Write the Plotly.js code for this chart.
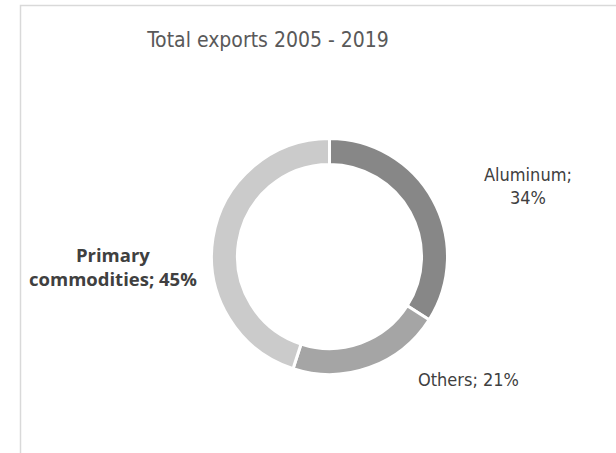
<!DOCTYPE html>
<html>
<head>
<meta charset="utf-8">
<script src="https://cdn.plot.ly/plotly-3.0.1.min.js"></script>
<style>html,body{margin:0;padding:0;background:#fff;}#chart{width:616px;height:453px;}</style>
</head>
<body>
<div id="chart"></div>
<script>
// Data
var categories = ['Aluminum', 'Others', 'Primary commodities'];
var shares = [34, 21, 45];
var sliceColors = ['#878787', '#a5a5a5', '#cbcbcb'];
var chartTitle = 'Total exports 2005 - 2019';

var W = 616, H = 453;
var cx = 329.5, cy = 256.5, R = 118;

var narrow = '"Liberation Sans Narrow", "DejaVu Sans Condensed", "Arial Narrow", sans-serif';

var trace = {
  type: 'pie',
  labels: categories,
  values: shares,
  sort: false,
  direction: 'clockwise',
  rotation: 0,
  hole: 0.78,
  textinfo: 'none',
  hoverinfo: 'label+percent',
  marker: { colors: sliceColors, line: { color: '#ffffff', width: 3 } },
  domain: { x: [(cx - R) / W, (cx + R) / W], y: [(H - cy - R) / H, (H - cy + R) / H] },
  showlegend: false
};

function lbl(i) { return categories[i] + '; ' + shares[i] + '%'; }

var annotations = [
  { text: lbl(0).replace('; ', ';<br>'), x: 528 / W, y: 1 - 186 / H, font: { family: narrow, size: 18, color: '#404040' } },
  { text: lbl(1), x: 468 / W, y: 1 - 379 / H, font: { family: narrow, size: 18, color: '#404040' } },
  { text: '<b>' + lbl(2).replace(' ', '<br>') + '</b>', x: 112.5 / W, y: 1 - 266.5 / H, font: { family: '"Open Sans", "Noto Sans", sans-serif', size: 18.5, color: '#404040' } }
].map(function (a) {
  a.xref = 'paper'; a.yref = 'paper'; a.showarrow = false;
  a.xanchor = 'center'; a.yanchor = 'middle'; a.align = 'center';
  return a;
});

var layout = {
  width: W, height: H,
  margin: { l: 0, r: 0, t: 0, b: 0 },
  paper_bgcolor: '#ffffff',
  title: { text: chartTitle, x: 268 / W, xanchor: 'center', y: 1 - 40 / H, yanchor: 'middle',
           font: { family: narrow, size: 21, color: '#595959' } },
  annotations: annotations,
  shapes: [{
    type: 'rect', xref: 'paper', yref: 'paper',
    x0: 20.5 / W, x1: 1.05, y0: -0.05, y1: 1 - 5.5 / H,
    line: { color: '#d9d9d9', width: 1.5 }, fillcolor: 'rgba(0,0,0,0)'
  }]
};

Plotly.newPlot('chart', [trace], layout, { displayModeBar: false, staticPlot: true });
</script>
</body>
</html>
